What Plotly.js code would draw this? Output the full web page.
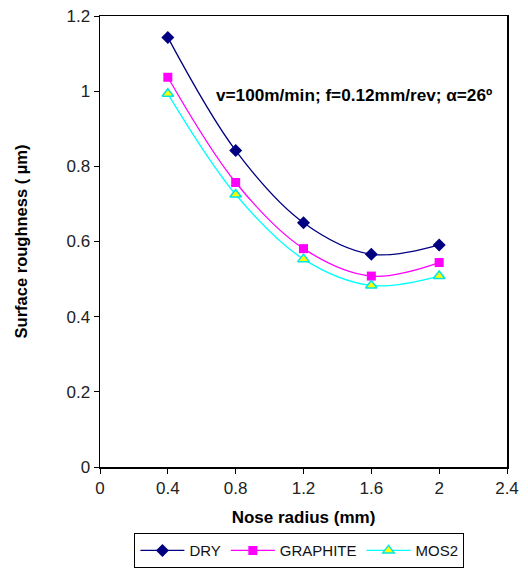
<!DOCTYPE html>
<html>
<head>
<meta charset="utf-8">
<script src="https://cdn.plot.ly/plotly-3.0.1.min.js"></script>
<style>html,body{margin:0;padding:0;background:#fff;}#chart{width:528px;height:569px;}</style>
</head>
<body>
<div id="chart"></div>
<script>
var noseRadius = [0.4, 0.8, 1.2, 1.6, 2.0];
var dry = [1.143, 0.842, 0.650, 0.566, 0.591];
var graphite = [1.037, 0.757, 0.581, 0.508, 0.544];
var mos2 = [0.993, 0.725, 0.553, 0.483, 0.508];
var seriesNames = ["DRY", "GRAPHITE", "MOS2"];
var xTicks = [0, 0.4, 0.8, 1.2, 1.6, 2, 2.4];
var yTicks = [0, 0.2, 0.4, 0.6, 0.8, 1, 1.2];

var traces = [
  {x: noseRadius, y: dry, name: seriesNames[0], mode: "lines+markers",
   line: {color: "#000080", width: 1.3, shape: "spline"},
   marker: {symbol: "diamond", size: 10, color: "#000080"}},
  {x: noseRadius, y: graphite, name: seriesNames[1], mode: "lines+markers",
   line: {color: "#ff00ff", width: 1.3, shape: "spline"},
   marker: {symbol: "square", size: 9, color: "#ff00ff"}},
  {x: noseRadius, y: mos2, name: seriesNames[2], mode: "lines+markers",
   line: {color: "#00ffff", width: 1.3, shape: "spline"},
   marker: {symbol: "triangle-up", size: 10, color: "#ffff00", line: {color: "#00e5e5", width: 1.5}}}
];

var layout = {
  width: 528, height: 569,
  margin: {l: 100, r: 21, t: 16, b: 102, autoexpand: false},
  paper_bgcolor: "#fff", plot_bgcolor: "#fff",
  font: {family: "Liberation Sans, Arial, sans-serif", size: 16, color: "#000"},
  showlegend: true,
  legend: {orientation: "h", x: 0.49, xref: "paper", xanchor: "center",
           y: 0.063, yref: "container", yanchor: "top",
           bordercolor: "#000", borderwidth: 1, font: {size: 15, color: "#111"},
           itemwidth: 44, tracegroupgap: 0},
  xaxis: {range: [0, 2.4], tickvals: xTicks, ticktext: xTicks.map(String),
          showgrid: false, zeroline: false, showline: true, linecolor: "#000", linewidth: 1.5,
          mirror: true, ticks: "outside", ticklen: 5, tickcolor: "#000",
          tickfont: {size: 17, color: "#222"},
          title: {text: "<b>Nose radius (mm)</b>", font: {size: 17}, standoff: 14}},
  yaxis: {range: [0, 1.2], tickvals: yTicks, ticktext: yTicks.map(String),
          showgrid: false, zeroline: false, showline: true, linecolor: "#000", linewidth: 1.5,
          mirror: true, ticks: "outside", ticklen: 5, tickcolor: "#000",
          tickfont: {size: 17, color: "#222"},
          title: {text: "<b>Surface roughness ( µm)</b>", font: {size: 16.5}, standoff: 34}},
  annotations: [{
    text: "<b>v=100m/min; f=0.12mm/rev; α=26º</b>",
    xref: "paper", yref: "paper", x: 0.967, y: 0.825, xanchor: "right", yanchor: "middle",
    showarrow: false, font: {size: 17.2}
  }]
};

Plotly.newPlot("chart", traces, layout, {displayModeBar: false, staticPlot: true});
</script>
</body>
</html>
